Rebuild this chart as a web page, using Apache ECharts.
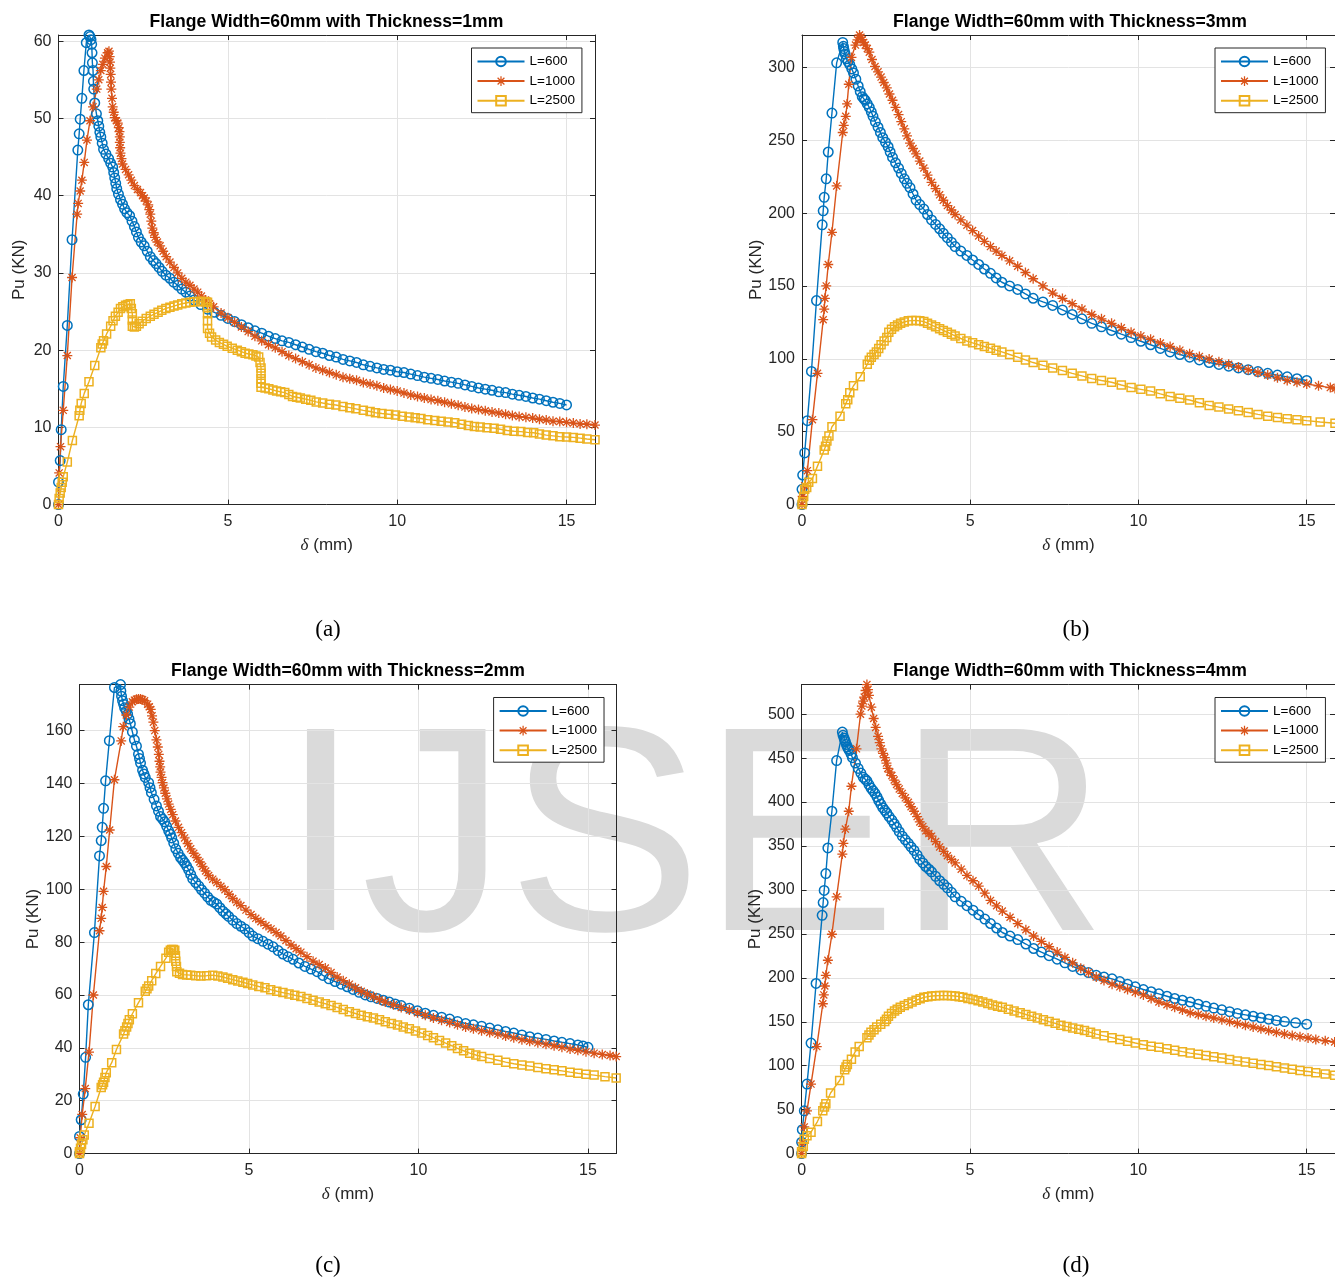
<!DOCTYPE html>
<html><head><meta charset="utf-8">
<script src="https://cdn.jsdelivr.net/npm/echarts@6/dist/echarts.min.js"></script>
<style>html,body{margin:0;padding:0;background:#fff}#c{width:1335px;height:1279px}</style>
</head><body><div id="c"></div><script>
// ---------- data (delta mm, Pu kN) ----------
const seriesNames = ['L=600', 'L=1000', 'L=2500'];
const titles = ['Flange Width=60mm with Thickness=1mm', 'Flange Width=60mm with Thickness=3mm',
  'Flange Width=60mm with Thickness=2mm', 'Flange Width=60mm with Thickness=4mm'];
const captions = ['(a)', '(b)', '(c)', '(d)'];
const xTickStep = 5;
const xMax = 15.84;
const yMaxes = [60.8, 322.3, 177.4, 533.7];
const yTickSteps = [10, 50, 20, 50];

const a600 = [[0,0],[0,2.9],[0.05,5.7],[0.08,9.7],[0.14,15.3],[0.26,23.2],[0.40,34.3],[0.57,45.9],[0.61,48.0],[0.64,49.9],[0.69,52.6],[0.75,56.2],[0.82,59.8],[0.90,60.8],[0.93,60.6],[0.96,60.2],[0.98,59.6],[0.99,58.5],[1.0,57.2],[1.02,56.2],[1.03,54.8],[1.04,53.8],[1.07,52],[1.12,50.6],[1.16,49.7],[1.19,49],[1.22,48.2],[1.25,47.6],[1.29,46.8],[1.33,46],[1.40,45.4],[1.48,44.8],[1.54,44.2],[1.60,43.7],[1.63,43.0],[1.66,42.3],[1.69,41.6],[1.72,40.9],[1.77,40.2],[1.83,39.5],[1.89,38.9],[1.95,38.3],[2.02,37.8],[2.10,37.4],[2.17,36.7],[2.24,36],[2.30,35.3],[2.36,34.6],[2.44,34.0],[2.53,33.5],[2.62,32.8],[2.71,32.1],[2.80,31.6],[2.88,31.2],[2.97,30.7],[3.06,30.2],[3.17,29.7],[3.29,29.3],[3.40,28.8],[3.52,28.4],[3.64,27.9],[3.76,27.5],[3.88,27.0],[4.0,26.5],[4.2,25.9],[4.4,25.3],[4.6,24.9],[4.8,24.5],[5.0,24.1],[5.2,23.7],[5.4,23.3],[5.6,22.9],[5.8,22.5],[6.0,22.2],[6.2,21.8],[6.4,21.5],[6.6,21.2],[6.8,21.0],[7.0,20.7],[7.2,20.4],[7.4,20.1],[7.6,19.8],[7.8,19.6],[8.0,19.3],[8.2,19.1],[8.4,18.8],[8.6,18.6],[8.8,18.4],[9.0,18.1],[9.2,17.9],[9.4,17.7],[9.6,17.5],[9.8,17.4],[10.0,17.2],[10.2,17.1],[10.4,16.9],[10.6,16.7],[10.8,16.5],[11.0,16.35],[11.2,16.2],[11.4,16.0],[11.6,15.85],[11.8,15.7],[12.0,15.5],[12.2,15.3],[12.4,15.1],[12.6,14.95],[12.8,14.8],[13.0,14.6],[13.2,14.5],[13.4,14.3],[13.6,14.15],[13.8,14.0],[14.0,13.8],[14.2,13.65],[14.4,13.45],[14.6,13.25],[14.8,13.1],[15.0,12.9]];
const a1000 = [[0,0],[0.02,4.1],[0.06,7.5],[0.14,12.2],[0.26,19.3],[0.40,29.4],[0.55,37.6],[0.58,39],[0.64,40.6],[0.69,42],[0.76,44.3],[0.84,47.2],[0.93,49.7],[1.02,51.5],[1.13,53.8],[1.19,55.0],[1.25,56.2],[1.31,57.0],[1.37,57.8],[1.45,58.5],[1.49,58.7],[1.51,58.0],[1.52,57.3],[1.53,56.5],[1.54,55.7],[1.55,54.7],[1.56,53.8],[1.58,52.6],[1.60,51.5],[1.63,50.8],[1.66,50.1],[1.71,49.7],[1.75,49.4],[1.78,48.8],[1.80,48.3],[1.81,47.6],[1.81,46.9],[1.82,46.2],[1.83,45.5],[1.86,44.8],[1.89,44.1],[1.98,43.4],[2.07,42.7],[2.15,42.0],[2.24,41.3],[2.33,40.8],[2.42,40.4],[2.48,40.0],[2.53,39.7],[2.59,39.3],[2.65,38.8],[2.68,38.2],[2.71,37.6],[2.74,36.7],[2.77,35.8],[2.81,35.2],[2.85,34.6],[2.92,34.0],[3.0,33.5],[3.09,32.8],[3.18,32.1],[3.29,31.4],[3.41,30.7],[3.52,30.0],[3.64,29.3],[3.76,28.8],[3.88,28.4],[4.0,27.9],[4.11,27.5],[4.22,27.0],[4.34,26.5],[4.46,26.0],[4.58,25.6],[4.8,24.8],[5.0,24.2],[5.2,23.6],[5.4,23.0],[5.6,22.4],[5.8,21.8],[6.0,21.2],[6.2,20.7],[6.4,20.3],[6.6,19.8],[6.8,19.3],[7.0,18.9],[7.2,18.5],[7.4,18.1],[7.6,17.7],[7.8,17.4],[8.0,17.1],[8.2,16.8],[8.4,16.5],[8.6,16.3],[8.8,16.1],[9.0,15.8],[9.2,15.6],[9.4,15.4],[9.6,15.1],[9.8,14.9],[10.0,14.7],[10.2,14.45],[10.4,14.2],[10.6,14.0],[10.8,13.8],[11.0,13.6],[11.2,13.45],[11.4,13.25],[11.6,13.05],[11.8,12.85],[12.0,12.65],[12.2,12.45],[12.4,12.3],[12.6,12.15],[12.8,12.0],[13.0,11.85],[13.2,11.7],[13.4,11.55],[13.6,11.4],[13.8,11.3],[14.0,11.2],[14.2,11.05],[14.4,10.95],[14.6,10.8],[14.8,10.75],[15.0,10.65],[15.2,10.55],[15.4,10.45],[15.6,10.4],[15.84,10.3]];
const a2500 = [[0,0],[0.02,0.8],[0.05,1.5],[0.08,2.2],[0.11,2.9],[0.14,3.6],[0.26,5.5],[0.41,8.3],[0.61,11.5],[0.63,12.2],[0.67,13.1],[0.76,14.4],[0.90,15.9],[1.07,18.0],[1.25,20.3],[1.29,20.8],[1.33,21.2],[1.42,22.1],[1.54,23.1],[1.61,23.8],[1.68,24.4],[1.76,24.9],[1.83,25.4],[1.90,25.6],[1.98,25.8],[2.05,25.9],[2.12,26.0],[2.15,25.4],[2.18,24.7],[2.18,23.9],[2.18,23.1],[2.24,23.0],[2.30,23.1],[2.38,23.4],[2.47,23.75],[2.59,24.1],[2.71,24.4],[2.82,24.65],[2.94,24.9],[3.05,25.15],[3.17,25.4],[3.29,25.55],[3.41,25.7],[3.52,25.85],[3.64,26.0],[3.76,26.1],[3.88,26.2],[4.0,26.25],[4.11,26.3],[4.2,26.3],[4.28,26.3],[4.35,26.25],[4.40,26.2],[4.40,25.5],[4.40,24.7],[4.40,23.8],[4.40,22.8],[4.46,22.2],[4.52,21.7],[4.64,21.3],[4.75,21.0],[4.87,20.75],[4.98,20.5],[5.13,20.25],[5.28,20.0],[5.4,19.8],[5.51,19.6],[5.62,19.5],[5.74,19.4],[5.83,19.25],[5.91,19.1],[5.95,18.4],[5.98,17.7],[5.98,17.0],[5.98,16.3],[5.98,15.7],[5.98,15.2],[6.1,15.1],[6.21,15.0],[6.33,14.85],[6.44,14.7],[6.56,14.6],[6.68,14.5],[6.8,14.25],[6.91,14.0],[7.03,13.9],[7.14,13.8],[7.3,13.65],[7.45,13.5],[7.61,13.3],[7.8,13.15],[8.0,13.0],[8.19,12.9],[8.4,12.7],[8.6,12.55],[8.78,12.4],[9.0,12.2],[9.2,12.05],[9.36,11.9],[9.55,11.8],[9.75,11.7],[9.95,11.6],[10.15,11.45],[10.35,11.35],[10.53,11.25],[10.7,11.15],[10.9,11.0],[11.11,10.9],[11.3,10.8],[11.5,10.7],[11.7,10.6],[11.9,10.4],[12.1,10.25],[12.28,10.1],[12.45,10.05],[12.65,9.95],[12.86,9.9],[13.05,9.75],[13.25,9.6],[13.45,9.5],[13.65,9.45],[13.85,9.35],[14.03,9.3],[14.2,9.15],[14.4,9.0],[14.6,8.9],[14.8,8.8],[15.0,8.75],[15.2,8.7],[15.4,8.6],[15.6,8.5],[15.84,8.4]];

const b600 = [[0,0],[0,10.5],[0.02,20.3],[0.08,35.5],[0.16,57.6],[0.28,91.4],[0.43,140],[0.60,192],[0.63,201.6],[0.66,210.9],[0.72,223.6],[0.78,242],[0.89,268.7],[1.03,303.2],[1.21,317.2],[1.23,314.5],[1.24,313],[1.26,311],[1.28,309.3],[1.32,306],[1.37,304],[1.42,302],[1.48,299],[1.53,296.3],[1.60,292],[1.67,287.3],[1.73,283.5],[1.79,280],[1.84,278.5],[1.88,277.5],[1.94,275],[2.0,272.6],[2.06,269.5],[2.11,266.5],[2.18,262.7],[2.26,259],[2.33,255.4],[2.40,251.8],[2.48,248.7],[2.56,245.6],[2.62,242],[2.69,238.3],[2.78,234.6],[2.87,231],[2.95,227.3],[3.04,223.6],[3.12,220.5],[3.21,217.5],[3.30,213.2],[3.39,209],[3.5,205.9],[3.62,202.8],[3.73,199.1],[3.85,195.4],[3.97,192.3],[4.09,189.3],[4.2,186.2],[4.32,183.2],[4.44,180.1],[4.55,177.1],[4.72,174],[4.9,171],[5.07,167.9],[5.25,164.8],[5.42,161.7],[5.60,158.7],[5.77,155.6],[5.94,152.6],[6.17,150.1],[6.41,147.7],[6.64,144.6],[6.87,141.6],[7.16,139.1],[7.45,136.7],[7.74,133.6],[8.03,130.5],[8.32,127.5],[8.61,124.4],[8.9,122],[9.20,119.5],[9.49,117],[9.78,114.6],[10.07,112.1],[10.36,109.7],[10.65,107.2],[10.94,104.8],[11.23,103],[11.52,101.2],[11.81,99.3],[12.1,97.5],[12.39,96.2],[12.68,95],[12.97,93.8],[13.26,92.6],[13.55,91.3],[13.84,90.1],[14.13,88.9],[14.42,87.7],[14.71,86.4],[15.0,85.2]];
const b1000 = [[0,0],[0.02,5.6],[0.08,13],[0.16,23.3],[0.31,58.3],[0.46,90.1],[0.63,126.9],[0.66,134.2],[0.68,141.6],[0.72,150.1],[0.78,164.8],[0.89,186.9],[1.03,218.7],[1.21,255.4],[1.24,260.3],[1.30,266.5],[1.34,275],[1.39,288.5],[1.47,306.9],[1.59,315.4],[1.65,319],[1.71,322.3],[1.75,320.8],[1.79,319.1],[1.83,317.2],[1.88,315.4],[1.94,313],[2.0,310.5],[2.08,305.5],[2.17,300.7],[2.26,297],[2.35,293.4],[2.43,289.7],[2.52,286],[2.6,281.8],[2.69,277.5],[2.78,272.6],[2.87,267.7],[2.95,262.8],[3.04,257.9],[3.12,253],[3.21,248.1],[3.30,244.4],[3.39,240.7],[3.5,235.8],[3.62,231],[3.73,226.1],[3.85,221.2],[3.97,216.9],[4.09,212.6],[4.2,208.9],[4.32,205.2],[4.44,202.2],[4.55,199.1],[4.72,195.4],[4.9,191.8],[5.07,188.1],[5.25,184.4],[5.42,180.7],[5.60,177.1],[5.77,174],[5.94,171],[6.17,167.3],[6.41,163.6],[6.64,159.3],[6.87,155],[7.16,150.1],[7.45,145.2],[7.74,141.5],[8.03,137.9],[8.32,134.2],[8.61,130.5],[8.9,127.5],[9.20,124.4],[9.49,121.4],[9.78,118.3],[10.07,115.8],[10.36,113.4],[10.65,110.9],[10.94,108.5],[11.23,106],[11.52,103.6],[11.81,101.7],[12.1,99.9],[12.39,98.1],[12.68,96.3],[12.97,94.4],[13.26,92.6],[13.55,90.7],[13.84,88.9],[14.13,87],[14.42,85.2],[14.71,84],[15.0,82.8],[15.35,81.5],[15.7,80.3],[15.84,79.7]];
const b2500 = [[0,0],[0.02,2],[0.05,5.6],[0.08,10.5],[0.14,11.8],[0.2,15.4],[0.31,17.9],[0.46,26.4],[0.66,37.5],[0.70,40],[0.74,43.6],[0.80,47],[0.89,53.4],[1.13,60.7],[1.30,69.3],[1.36,72],[1.42,76.7],[1.53,81.6],[1.73,87.7],[1.94,96.3],[2.0,99],[2.06,101.2],[2.14,103],[2.21,104.8],[2.28,107.2],[2.35,109.7],[2.44,112.2],[2.52,114.6],[2.58,118.3],[2.66,120.3],[2.75,122],[2.84,123.3],[2.93,124.4],[3.04,125.3],[3.16,126.1],[3.27,126.3],[3.39,126.4],[3.5,126.1],[3.62,125.6],[3.73,124.5],[3.85,123.2],[3.97,122],[4.09,120.7],[4.2,119.5],[4.32,118.3],[4.44,117],[4.55,115.8],[4.72,114],[4.9,112.2],[5.07,111],[5.25,109.7],[5.42,108.5],[5.6,107.3],[5.77,106],[5.94,104.8],[6.17,103],[6.41,101.2],[6.64,99.3],[6.87,97.5],[7.16,95.6],[7.45,93.8],[7.74,92],[8.03,90.1],[8.32,88.3],[8.61,86.5],[8.9,85.2],[9.2,84],[9.49,82.1],[9.78,80.3],[10.07,79.1],[10.36,77.9],[10.65,76],[10.94,74.2],[11.23,73],[11.52,71.8],[11.81,69.9],[12.1,68.1],[12.39,66.9],[12.68,65.6],[12.97,64.4],[13.26,63.2],[13.55,61.9],[13.84,60.7],[14.13,59.8],[14.42,59],[14.71,58.3],[15.0,57.6],[15.4,56.7],[15.84,55.8]];

const c600 = [[0,0],[0,6.5],[0.05,12.8],[0.11,22.5],[0.18,36.4],[0.26,56.3],[0.44,83.6],[0.59,112.6],[0.64,118.4],[0.67,123.4],[0.71,130.6],[0.77,141],[0.88,156.2],[1.03,176.3],[1.21,177.4],[1.22,175],[1.24,173],[1.27,171.3],[1.30,170],[1.33,168.6],[1.38,167.4],[1.42,166.2],[1.46,164.4],[1.50,162.6],[1.56,159.5],[1.62,156.5],[1.68,154.1],[1.74,151.1],[1.77,149.4],[1.80,147.7],[1.86,145],[1.90,143.6],[1.94,142.3],[2.04,140.3],[2.08,138.4],[2.12,136.5],[2.2,134],[2.27,131.5],[2.33,129.5],[2.39,127.5],[2.45,126.5],[2.51,125.5],[2.57,123.8],[2.63,122.1],[2.68,120.8],[2.72,119.4],[2.78,117.4],[2.84,115.3],[2.91,113.6],[2.98,112],[3.04,111],[3.10,110],[3.16,108.7],[3.22,107.3],[3.28,105.6],[3.34,103.9],[3.43,102.5],[3.52,101.2],[3.6,99.8],[3.69,98.5],[3.78,97.1],[3.87,95.8],[3.96,95.1],[4.05,94.4],[4.14,93],[4.23,91.7],[4.32,90.7],[4.40,89.7],[4.52,88.3],[4.64,87],[4.76,86],[4.88,85],[5.0,83.6],[5.11,82.3],[5.26,81.3],[5.41,80.3],[5.56,79.2],[5.71,78.2],[5.86,76.8],[6.0,75.5],[6.15,74.5],[6.30,73.5],[6.47,72.1],[6.65,70.8],[6.83,69.8],[7.01,68.8],[7.18,67.4],[7.36,66.1],[7.54,65.1],[7.72,64.1],[7.9,63.1],[8.07,62.1],[8.25,61],[8.43,60],[8.6,59.3],[8.78,58.7],[8.96,58],[9.14,57.3],[9.31,56.6],[9.49,56],[9.73,55],[9.97,54],[10.2,53.1],[10.44,52.3],[10.68,51.6],[10.92,50.9],[11.15,50],[11.39,49.2],[11.62,48.7],[11.86,48.2],[12.1,47.5],[12.34,46.8],[12.57,46.2],[12.81,45.6],[13.05,44.9],[13.28,44.2],[13.52,43.7],[13.76,43.2],[14.0,42.6],[14.23,42.1],[14.47,41.6],[14.70,41.1],[14.85,40.7],[15.0,40.2]];
const c1000 = [[0,0],[0.02,6],[0.08,14.8],[0.17,24.6],[0.28,38.4],[0.41,60],[0.59,84.3],[0.64,89],[0.67,93.1],[0.71,99.2],[0.79,108.6],[0.89,122.4],[1.03,141.4],[1.23,156.1],[1.29,161.5],[1.38,165.9],[1.47,168.9],[1.56,170.9],[1.62,171.5],[1.68,171.9],[1.74,172],[1.80,172],[1.86,171.7],[1.92,171.3],[2.01,170],[2.06,169],[2.10,168],[2.14,165.6],[2.18,163.2],[2.22,160],[2.27,156.5],[2.31,153.8],[2.34,151],[2.36,148.4],[2.38,146.3],[2.39,144.3],[2.42,142.3],[2.45,140.3],[2.49,138.3],[2.53,136.3],[2.58,134.2],[2.63,132.2],[2.69,130.2],[2.75,128.2],[2.83,125.8],[2.92,123.4],[3.01,121.4],[3.10,119.4],[3.19,117.3],[3.28,115.3],[3.37,113.6],[3.46,112],[3.55,110.3],[3.63,108.6],[3.72,106.9],[3.81,105.2],[3.93,103.8],[4.05,102.5],[4.17,101.1],[4.29,99.8],[4.41,98.1],[4.52,96.5],[4.64,95.1],[4.76,93.8],[4.91,92.1],[5.06,90.4],[5.2,89],[5.35,87.7],[5.5,86.3],[5.65,85],[5.8,83.6],[5.94,82.3],[6.09,80.6],[6.24,78.9],[6.39,77.5],[6.53,76.2],[6.71,74.5],[6.89,72.8],[7.07,71.5],[7.25,70.2],[7.42,68.5],[7.60,66.8],[7.78,65.4],[7.96,64.1],[8.14,62.7],[8.31,61.4],[8.49,60.4],[8.67,59.4],[8.85,58.3],[9.02,57.3],[9.26,56.3],[9.49,55.3],[9.73,54.3],[9.97,53.3],[10.2,52.3],[10.44,51.3],[10.68,50.4],[10.92,49.6],[11.15,48.7],[11.39,47.9],[11.62,47.2],[11.86,46.5],[12.1,45.8],[12.34,45.2],[12.57,44.5],[12.81,43.8],[13.05,43.1],[13.28,42.5],[13.52,41.9],[13.76,41.4],[14.0,40.8],[14.23,40.2],[14.47,39.6],[14.70,39.1],[14.94,38.5],[15.18,38],[15.42,37.5],[15.65,37.1],[15.83,36.7]];
const c2500 = [[0,0],[0,0.7],[0.03,2],[0.06,3.4],[0.1,5.2],[0.14,7],[0.28,11.5],[0.46,17.8],[0.64,25],[0.68,26],[0.71,27],[0.75,28.8],[0.79,30.6],[0.95,34.4],[1.09,39.4],[1.30,45.2],[1.34,46.5],[1.39,47.9],[1.43,49.2],[1.47,50.6],[1.56,52.9],[1.74,57.1],[1.94,61.4],[1.99,62.4],[2.04,63.4],[2.13,65.4],[2.25,68.1],[2.39,70.8],[2.55,73.9],[2.63,76.2],[2.68,76.9],[2.72,77.2],[2.77,77.2],[2.81,76.9],[2.83,74.8],[2.84,72.8],[2.86,70.8],[2.87,68.8],[2.95,68.2],[3.04,67.7],[3.16,67.6],[3.28,67.5],[3.43,67.3],[3.58,67.2],[3.75,67.3],[3.93,67.5],[4.08,67.2],[4.23,66.8],[4.37,66.3],[4.52,65.8],[4.67,65.3],[4.82,64.8],[4.96,64.3],[5.11,63.8],[5.29,63.2],[5.47,62.7],[5.64,62],[5.82,61.4],[6.0,60.9],[6.18,60.4],[6.35,59.9],[6.53,59.4],[6.71,58.7],[6.89,58],[7.07,57.3],[7.25,56.7],[7.42,56],[7.60,55.3],[7.78,54.5],[7.96,53.7],[8.14,53],[8.31,52.3],[8.49,51.8],[8.67,51.3],[8.85,50.6],[9.02,49.9],[9.2,49.2],[9.38,48.6],[9.55,47.9],[9.73,47.2],[9.91,46.4],[10.09,45.6],[10.27,44.7],[10.44,43.8],[10.62,42.8],[10.80,41.8],[10.98,40.8],[11.15,39.8],[11.33,38.9],[11.51,38],[11.69,37.3],[11.86,36.7],[12.1,36],[12.34,35.3],[12.57,34.6],[12.81,34],[13.05,33.5],[13.28,33.1],[13.52,32.6],[13.76,32.1],[14.0,31.7],[14.23,31.3],[14.47,30.8],[14.70,30.4],[14.94,30],[15.18,29.7],[15.5,29.1],[15.83,28.6]];

const d600 = [[0,0],[0,13],[0.02,27.2],[0.08,48.7],[0.16,79.1],[0.28,125.8],[0.43,193.6],[0.61,271.1],[0.64,285.7],[0.67,299.5],[0.72,318.6],[0.78,347.8],[0.90,389.6],[1.04,447.2],[1.21,479.7],[1.23,476],[1.26,472.8],[1.28,470.5],[1.30,468.7],[1.33,465.5],[1.36,462.7],[1.39,460.5],[1.42,458.6],[1.47,454.5],[1.51,450.5],[1.6,444.4],[1.68,438.3],[1.76,433],[1.83,428.2],[1.89,426],[1.94,424.1],[2.0,420],[2.06,416],[2.12,413],[2.18,409.9],[2.24,405.8],[2.29,401.8],[2.35,397.7],[2.41,393.7],[2.47,390.6],[2.53,387.6],[2.6,383.5],[2.68,379.5],[2.75,375.4],[2.82,371.3],[2.9,366.3],[2.99,361.2],[3.08,357.1],[3.17,353.1],[3.25,349],[3.34,345],[3.43,339.9],[3.51,334.8],[3.6,330.8],[3.69,326.7],[3.78,323.6],[3.86,320.6],[3.98,315.5],[4.10,310.5],[4.22,306.4],[4.33,302.4],[4.45,297.3],[4.56,292.2],[4.74,287.1],[4.91,282.1],[5.09,277],[5.26,271.9],[5.44,266.9],[5.61,261.8],[5.79,256.7],[5.96,251.6],[6.19,247.6],[6.42,243.5],[6.66,238.5],[6.89,233.4],[7.12,229.3],[7.35,225.2],[7.59,221.2],[7.82,217.1],[8.05,213],[8.29,209],[8.52,206],[8.75,202.9],[8.98,200.9],[9.22,198.9],[9.45,195.8],[9.68,192.8],[9.91,189.8],[10.15,186.7],[10.38,184.2],[10.61,181.8],[10.85,179.1],[11.08,176.5],[11.31,174.5],[11.54,172.5],[11.78,170],[12.01,167.6],[12.24,165.6],[12.48,163.6],[12.71,161.5],[12.94,159.5],[13.18,157.9],[13.41,156.3],[13.64,154.6],[13.87,153],[14.1,151.6],[14.34,150.2],[14.67,148.8],[15.0,147.3]];
const d1000 = [[0,0],[0.02,12.2],[0.08,30.4],[0.16,48.7],[0.28,79.1],[0.45,121.8],[0.63,170.5],[0.66,180.6],[0.69,190.7],[0.72,202.9],[0.78,220],[0.90,249.6],[1.04,292.2],[1.21,340.9],[1.24,353.1],[1.30,369.3],[1.40,389.6],[1.48,418],[1.63,460.6],[1.75,500],[1.79,509.3],[1.83,515],[1.86,519.5],[1.90,527],[1.94,533.7],[1.97,528],[2.0,521.5],[2.07,508],[2.14,495.1],[2.2,485],[2.27,474.8],[2.32,467.7],[2.37,460.6],[2.42,455.5],[2.47,450.5],[2.52,444.4],[2.56,438.3],[2.62,434.2],[2.68,430.2],[2.75,425.1],[2.82,420],[2.9,415],[2.99,409.9],[3.08,404.8],[3.17,399.8],[3.25,394.7],[3.34,389.6],[3.43,383.5],[3.51,377.4],[3.6,372.3],[3.69,367.3],[3.78,364.2],[3.86,361.2],[3.98,355.1],[4.10,349],[4.22,344],[4.33,338.9],[4.45,334.8],[4.56,330.8],[4.74,323.7],[4.91,316.6],[5.09,310.5],[5.26,304.4],[5.44,296.3],[5.61,288.1],[5.79,282],[5.96,276],[6.19,268.9],[6.42,261.8],[6.66,254.7],[6.89,247.6],[7.12,241.5],[7.35,235.4],[7.59,229.3],[7.82,223.2],[8.05,217.1],[8.29,211],[8.52,206],[8.75,200.9],[8.98,196.9],[9.22,192.8],[9.45,189.8],[9.68,186.7],[9.91,183.7],[10.15,180.6],[10.38,176.6],[10.61,172.5],[10.85,169.5],[11.08,166.4],[11.31,163.4],[11.54,160.3],[11.78,158.3],[12.01,156.3],[12.24,154.3],[12.48,152.2],[12.71,150.2],[12.94,148.1],[13.18,146.1],[13.41,144.1],[13.64,142.1],[13.87,140],[14.1,138],[14.34,136],[14.57,134.5],[14.80,133.1],[15.04,131.5],[15.27,129.9],[15.55,128.4],[15.83,127]];
const d2500 = [[0,0],[0,2],[0.05,8.1],[0.08,16.2],[0.16,20.3],[0.28,24.4],[0.47,36.5],[0.63,48.7],[0.68,53],[0.72,56.8],[0.86,69],[1.13,83.2],[1.28,95.4],[1.32,98.5],[1.36,101.5],[1.48,107.5],[1.59,115.7],[1.71,121.8],[1.94,131.9],[2.0,135],[2.06,138],[2.15,141],[2.23,144.1],[2.35,147.2],[2.47,150.2],[2.52,153],[2.58,156.3],[2.67,159.3],[2.76,162.3],[2.84,164.4],[2.93,166.4],[3.05,168.5],[3.17,170.5],[3.28,172.5],[3.40,174.5],[3.52,176.2],[3.63,177.8],[3.75,178.6],[3.86,179.4],[3.98,179.6],[4.10,179.8],[4.22,179.8],[4.33,179.8],[4.45,179.6],[4.56,179.4],[4.68,178.6],[4.79,177.8],[4.94,176.6],[5.09,175.3],[5.24,173.9],[5.38,172.5],[5.53,170.9],[5.67,169.2],[5.82,167.8],[5.96,166.4],[6.14,164.4],[6.31,162.3],[6.49,160.3],[6.66,158.3],[6.83,156.3],[7.0,154.2],[7.18,152.2],[7.35,150.2],[7.53,148.2],[7.70,146.1],[7.88,144.5],[8.05,142.9],[8.23,141.5],[8.40,140],[8.58,138],[8.75,136],[8.98,134],[9.22,131.9],[9.45,129.9],[9.68,127.8],[9.91,125.8],[10.15,123.8],[10.38,122.3],[10.61,120.9],[10.85,119.3],[11.08,117.7],[11.31,116],[11.54,114.4],[11.78,113],[12.01,111.6],[12.24,110.2],[12.48,108.8],[12.71,107.2],[12.94,105.5],[13.18,104.1],[13.41,102.7],[13.64,101.5],[13.87,100.2],[14.1,98.8],[14.34,97.4],[14.57,96],[14.80,94.6],[15.04,93.4],[15.27,92.1],[15.55,90.7],[15.83,89.3]];

const panelData = [[a600, a1000, a2500], [b600, b1000, b2500], [c600, c1000, c2500], [d600, d1000, d2500]];

// ---------- layout / style ----------
const FONT = '"Liberation Sans", Arial, Helvetica, sans-serif';
const AX = '#262626';
const GRIDC = '#e3e3e3';
const colors = ['#0072BD', '#D95319', '#EDB120'];
const grids = [
  {left: 58.5, top: 35, width: 536.5, height: 469.6},
  {left: 802, top: 35, width: 535.5, height: 469.6},
  {left: 79.5, top: 684.6, width: 537, height: 469},
  {left: 801.6, top: 684.6, width: 536, height: 469}
];
const titlePos = [[326.5, 22], [1070, 22], [348, 671], [1070, 671]];
const captionPos = [[328, 629.5], [1076, 629.5], [328, 1266], [1076, 1266]];
const legendPos = [[471.5, 48], [1215, 48], [493.6, 697.5], [1215, 697.5]];
const ASTER = 'path://M0 8.7H20V11.3H0Z M8.7 0H11.3V20H8.7Z M3.85 2.0L18.0 16.15L16.15 18.0L2.0 3.85Z M16.15 2.0L18.0 3.85L3.85 18.0L2.0 16.15Z';

const xAxes = [], yAxes = [], series = [], legends = [], graphics = [];
grids.forEach((g, i) => {
  const tick = {show: true, inside: true, length: 5, lineStyle: {color: AX, width: 1}};
  const line = {show: true, onZero: false, lineStyle: {color: AX, width: 1}};
  xAxes.push({
    type: 'value', gridIndex: i, position: 'bottom', min: 0, max: xMax, interval: xTickStep,
    axisLine: line, axisTick: tick,
    axisLabel: {color: AX, fontSize: 16, fontFamily: FONT, margin: 9, showMaxLabel: false},
    splitLine: {show: true, lineStyle: {color: GRIDC, width: 1}},
    name: '{i|δ} (mm)', nameLocation: 'middle', nameGap: 32,
    nameTextStyle: {color: AX, fontSize: 17, fontFamily: FONT,
      rich: {i: {fontStyle: 'italic', fontFamily: '"Liberation Serif", serif', fontSize: 17, color: AX}}}
  });
  xAxes.push({
    type: 'value', gridIndex: i, position: 'top', min: 0, max: xMax, interval: xTickStep,
    axisLine: line, axisTick: tick, axisLabel: {show: false}, splitLine: {show: false}
  });
  yAxes.push({
    type: 'value', gridIndex: i, position: 'left', min: 0, max: yMaxes[i], interval: yTickSteps[i],
    axisLine: line, axisTick: tick,
    axisLabel: {color: AX, fontSize: 16, fontFamily: FONT, margin: 7, showMaxLabel: false},
    splitLine: {show: true, lineStyle: {color: GRIDC, width: 1}},
    name: 'Pu (KN)', nameLocation: 'middle', nameGap: 31,
    nameTextStyle: {color: AX, fontSize: 17, fontFamily: FONT}
  });
  yAxes.push({
    type: 'value', gridIndex: i, position: 'right', min: 0, max: yMaxes[i], interval: yTickSteps[i],
    axisLine: line, axisTick: tick, axisLabel: {show: false}, splitLine: {show: false}
  });
  panelData[i].forEach((d, k) => {
    const s = {
      type: 'line', name: seriesNames[k], data: d,
      xAxisIndex: 2 * i, yAxisIndex: 2 * i,
      showAllSymbol: true, silent: true, animation: false,
      emphasis: {disabled: true},
      lineStyle: {color: colors[k], width: 1.4}
    };
    if (k === 0) {
      s.symbol = 'circle'; s.symbolSize = 9.5;
      s.itemStyle = {color: 'rgba(255,255,255,0)', borderColor: colors[0], borderWidth: 1.5};
    } else if (k === 1) {
      s.symbol = ASTER; s.symbolSize = 10;
      s.itemStyle = {color: colors[1], borderWidth: 0};
    } else {
      s.symbol = 'rect'; s.symbolSize = 8;
      s.itemStyle = {color: 'rgba(255,255,255,0)', borderColor: colors[2], borderWidth: 1.5};
    }
    series.push(s);
  });
  legends.push({
    orient: 'vertical', left: legendPos[i][0], top: legendPos[i][1],
    data: seriesNames, itemWidth: 47, itemHeight: 12, itemGap: 5.6,
    padding: [6.5, 7, 5, 5], borderColor: AX, borderWidth: 1, backgroundColor: '#fff',
    selectedMode: false,
    textStyle: {color: '#000', fontSize: 13.5, fontFamily: FONT}
  });
  graphics.push({
    type: 'text', z: 100,
    style: {text: titles[i], x: titlePos[i][0], y: titlePos[i][1], align: 'center', verticalAlign: 'middle',
      font: 'bold 17.6px "Liberation Sans", Arial, sans-serif', fill: '#000'}
  });
  graphics.push({
    type: 'text', z: 100,
    style: {text: captions[i], x: captionPos[i][0], y: captionPos[i][1], align: 'center', verticalAlign: 'middle',
      font: '23px "Liberation Serif", "DejaVu Serif", serif', fill: '#000'}
  });
});
graphics.push({
  type: 'text', z: -10, silent: true,
  style: {text: 'IJSER', x: 280, y: 849.4, align: 'left', verticalAlign: 'middle',
    font: '292px "Liberation Sans", Arial, sans-serif', fill: '#dadada'}
});

const chart = echarts.init(document.getElementById('c'), null, {renderer: 'canvas'});
chart.setOption({
  animation: false,
  backgroundColor: '#fff',
  grid: grids.map(g => Object.assign({containLabel: false}, g)),
  xAxis: xAxes, yAxis: yAxes, series, legend: legends, graphic: graphics
});
</script></body></html>
